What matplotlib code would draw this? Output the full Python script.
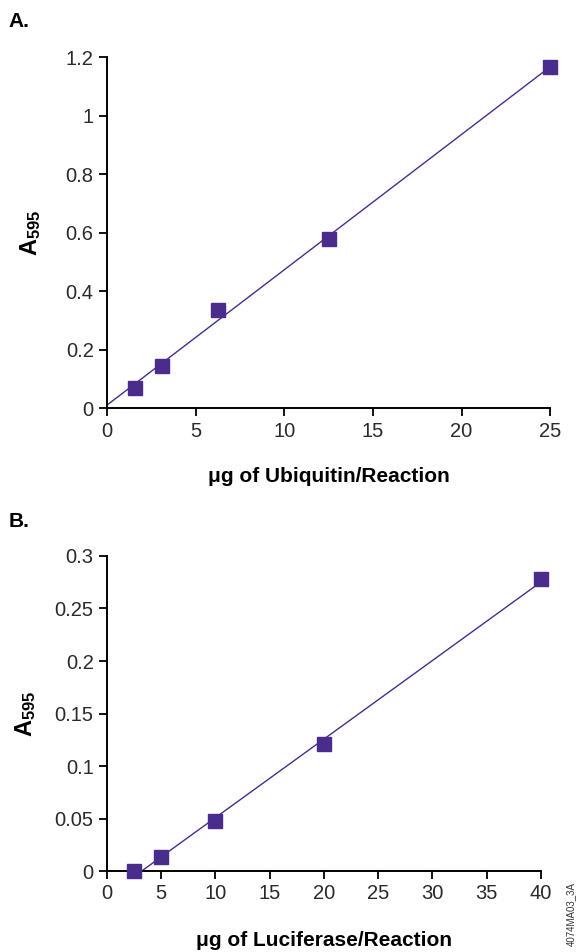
import numpy as np
import matplotlib.pyplot as plt

# panel A: ubiquitin
ubq_ug = [1.56, 3.13, 6.25, 12.5, 25]
ubq_a595 = [0.07, 0.145, 0.335, 0.58, 1.165]
ubq_xticks = [0, 5, 10, 15, 20, 25]
ubq_yticks = [0, 0.2, 0.4, 0.6, 0.8, 1, 1.2]

# panel B: luciferase
luc_ug = [2.5, 5, 10, 20, 40]
luc_a595 = [0.0, 0.013, 0.048, 0.121, 0.278]
luc_xticks = [0, 5, 10, 15, 20, 25, 30, 35, 40]
luc_yticks = [0, 0.05, 0.1, 0.15, 0.2, 0.25, 0.3]

purple = '#4a2c8c'
tickfont = 'Liberation Sans'
labfont = 'Liberation Sans'

plt.rcParams['mathtext.fontset'] = 'custom'
plt.rcParams['mathtext.bf'] = 'Liberation Sans:bold'
plt.rcParams['mathtext.rm'] = 'Liberation Sans:bold'

fig = plt.figure(figsize=(5.81, 9.52), dpi=100)
axA = fig.add_axes([0.184, 0.571, 0.763, 0.369])
axB = fig.add_axes([0.184, 0.085, 0.747, 0.331])


def style(ax, xt, yt, ylim, xlim):
    ax.set_xlim(xlim)
    ax.set_ylim(ylim)
    ax.set_xticks(xt)
    ax.set_yticks(yt)
    ax.set_xticklabels([f'{v:g}' for v in xt])
    ax.set_yticklabels([f'{v:g}' for v in yt])
    for s in ['top', 'right']:
        ax.spines[s].set_visible(False)
    for s in ['left', 'bottom']:
        ax.spines[s].set_linewidth(1.4)
    ax.tick_params(direction='out', length=6, width=1.3, labelsize=14.5, pad=3.5)
    for lab in ax.get_xticklabels() + ax.get_yticklabels():
        lab.set_fontfamily(tickfont)
        lab.set_color('#2a2a2a')


# A
m, b = np.polyfit(ubq_ug, ubq_a595, 1)
xx = np.array([0, 25])
axA.plot(xx, m * xx + b, color=purple, lw=1, clip_on=False)
axA.plot(ubq_ug, ubq_a595, 's', color=purple, ms=10.5, clip_on=False)
style(axA, ubq_xticks, ubq_yticks, (0, 1.2), (0, 25))
axA.set_xlabel('μg of Ubiquitin/Reaction', fontsize=15, fontweight='bold',
               family=labfont, labelpad=19)
axA.set_ylabel(r'$\mathbf{A_{595}}$', fontsize=17, labelpad=16)

# B
m, b = np.polyfit(luc_ug, luc_a595, 1)
xx = np.array([-b / m, 40])
axB.plot(xx, m * xx + b, color=purple, lw=1, clip_on=False)
axB.plot(luc_ug, luc_a595, 's', color=purple, ms=10.5, clip_on=False, zorder=3)
style(axB, luc_xticks, luc_yticks, (0, 0.3), (0, 40))
axB.set_xlabel('μg of Luciferase/Reaction', fontsize=15, fontweight='bold',
               family=labfont, labelpad=20)
axB.set_ylabel(r'$\mathbf{A_{595}}$', fontsize=17, labelpad=12)

fig.text(0.014, 0.977, 'A.', fontsize=15, fontweight='bold', family=labfont,
         va='center')
fig.text(0.014, 0.452, 'B.', fontsize=15, fontweight='bold', family=labfont,
         va='center')
fig.text(0.982, 0.04, '4074MA03_3A', fontsize=7, rotation=90, color='#333333',
         family=tickfont, ha='center', va='center')

fig.savefig('out.png', dpi=100)
